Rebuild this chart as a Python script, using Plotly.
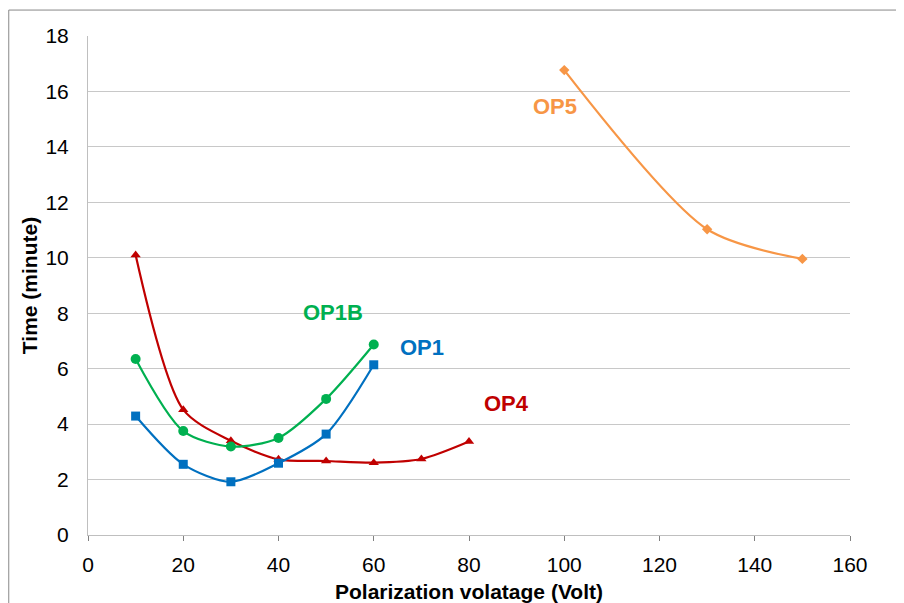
import plotly.graph_objects as go

op1_x = [10, 20, 30, 40, 50, 60]
op1_y = [4.29, 2.55, 1.92, 2.59, 3.64, 6.14]
op1b_x = [10, 20, 30, 40, 50, 60]
op1b_y = [6.35, 3.75, 3.19, 3.50, 4.91, 6.87]
op4_x = [10, 20, 30, 40, 50, 60, 70, 80]
op4_y = [10.1, 4.52, 3.40, 2.73, 2.67, 2.61, 2.74, 3.37]
op5_x = [100, 130, 150]
op5_y = [16.77, 11.03, 9.96]

labels = ["OP5", "OP1B", "OP1", "OP4"]
label_x = [98.1, 51.4, 70.1, 87.8]
label_y = [15.44, 8.04, 6.75, 4.76]

c_blue = "#0070C0"
c_green = "#00B050"
c_red = "#C00000"
c_orange = "#F79646"
label_colors = [c_orange, c_green, c_blue, c_red]

fig = go.Figure()
fig.add_trace(go.Scatter(x=op4_x, y=op4_y, mode="lines+markers", name="OP4",
                         line=dict(color=c_red, width=2.2, shape="spline", smoothing=0.8),
                         marker=dict(symbol="triangle-up", size=9, color=c_red)))
fig.add_trace(go.Scatter(x=op1b_x, y=op1b_y, mode="lines+markers", name="OP1B",
                         line=dict(color=c_green, width=2.2, shape="spline", smoothing=0.8),
                         marker=dict(symbol="circle", size=10, color=c_green)))
fig.add_trace(go.Scatter(x=op1_x, y=op1_y, mode="lines+markers", name="OP1",
                         line=dict(color=c_blue, width=2.2, shape="spline", smoothing=0.8),
                         marker=dict(symbol="square", size=9, color=c_blue)))
fig.add_trace(go.Scatter(x=op5_x, y=op5_y, mode="lines+markers", name="OP5",
                         line=dict(color=c_orange, width=2.2, shape="spline", smoothing=0.8),
                         marker=dict(symbol="diamond", size=8, color=c_orange)))

for t, xx, yy, cc in zip(labels, label_x, label_y, label_colors):
    fig.add_annotation(x=xx, y=yy, xref="x", yref="y", text="<b>%s</b>" % t,
                       showarrow=False, font=dict(family="Arial, Liberation Sans", size=22, color=cc))

fig.add_shape(type="line", xref="paper", yref="paper", x0=-0.104, x1=1.2, y0=1.052, y1=1.052,
              line=dict(color="#888888", width=1))
fig.add_shape(type="line", xref="paper", yref="paper", x0=-0.104, x1=-0.104, y0=1.052, y1=-0.2,
              line=dict(color="#888888", width=1))

fig.update_layout(
    width=896, height=595,
    margin=dict(l=80, r=54, t=28, b=68),
    paper_bgcolor="white", plot_bgcolor="white",
    showlegend=False,
    font=dict(family="Arial, Liberation Sans", size=21, color="black"),
    xaxis=dict(range=[0, 160], dtick=20, tick0=0, showgrid=False, zeroline=False,
               showline=True, linecolor="#BFBFBF", linewidth=1, automargin=False,
               ticks="outside", ticklen=5, tickcolor="#808080", ticklabelstandoff=6,
               title=dict(text="<b>Polarization volatage (Volt)</b>", font=dict(size=21), standoff=10)),
    yaxis=dict(range=[0, 18], dtick=2, tick0=0, showgrid=True, gridcolor="#C8C8C8", gridwidth=1,
               zeroline=False, showline=True, linecolor="#BFBFBF", linewidth=1, automargin=False,
               ticks="", ticklabelstandoff=14,
               title=dict(text="<b>Time (minute)</b>", font=dict(size=21), standoff=2)),
)

fig.write_html("out.html")
